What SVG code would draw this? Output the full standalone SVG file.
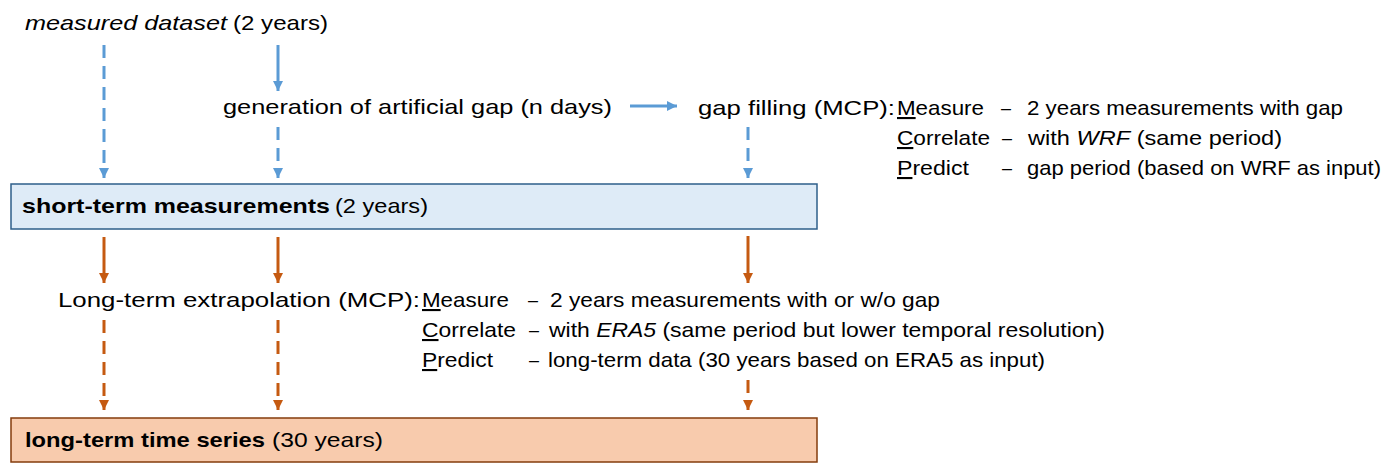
<svg xmlns="http://www.w3.org/2000/svg" width="1395" height="475" viewBox="0 0 1395 475">
<defs>
<style>
text{font-family:"Liberation Sans",Arial,sans-serif;font-size:21px;fill:#000}
.b{font-weight:bold}
.i{font-style:italic}
.u{text-decoration:underline}
.blue{stroke:#5b9bd5;stroke-width:3;fill:none}
.orange{stroke:#c55a11;stroke-width:3;fill:none}
.dash{stroke-dasharray:13 8}
</style>
<marker id="ab" viewBox="0 0 10 10" refX="10" refY="5" markerWidth="3.4" markerHeight="3.4" markerUnits="strokeWidth" orient="auto"><path d="M0,0 L10,5 L0,10 z" fill="#5b9bd5"/></marker>
<marker id="ao" viewBox="0 0 10 10" refX="10" refY="5" markerWidth="3.4" markerHeight="3.4" markerUnits="strokeWidth" orient="auto"><path d="M0,0 L10,5 L0,10 z" fill="#c55a11"/></marker>
</defs>
<rect width="1395" height="475" fill="#fff"/>

<g id="measured-dataset">
<text x="25" y="30"><tspan class="i" textLength="202" lengthAdjust="spacingAndGlyphs">measured dataset</tspan></text>
<text x="233" y="30" textLength="95" lengthAdjust="spacingAndGlyphs">(2 years)</text>
</g>

<g id="artificial-gap">
<text x="223" y="114" textLength="389" lengthAdjust="spacingAndGlyphs">generation of artificial gap (n days)</text>
</g>

<g id="gap-filling">
<text x="698" y="115" textLength="197" lengthAdjust="spacingAndGlyphs">gap filling (MCP):</text>
<text x="897" y="115" textLength="87" lengthAdjust="spacingAndGlyphs"><tspan class="u">M</tspan>easure</text>
<text x="1001" y="115" textLength="10" lengthAdjust="spacingAndGlyphs">–</text>
<text x="1027" y="115" textLength="316" lengthAdjust="spacingAndGlyphs">2 years measurements with gap</text>
<text x="897" y="145" textLength="93" lengthAdjust="spacingAndGlyphs"><tspan class="u">C</tspan>orrelate</text>
<text x="1002" y="145" textLength="10" lengthAdjust="spacingAndGlyphs">–</text>
<text x="1028" y="145" textLength="254" lengthAdjust="spacingAndGlyphs">with <tspan class="i">WRF</tspan> (same period)</text>
<text x="897" y="175" textLength="72" lengthAdjust="spacingAndGlyphs"><tspan class="u">P</tspan>redict</text>
<text x="1002" y="175" textLength="10" lengthAdjust="spacingAndGlyphs">–</text>
<text x="1027" y="175" textLength="354" lengthAdjust="spacingAndGlyphs">gap period (based on WRF as input)</text>
</g>

<g id="short-term">
<rect x="11" y="184" width="806" height="45" fill="#deebf7" stroke="#2e5f8a" stroke-width="1.5"/>
<text x="22" y="213"><tspan class="b" textLength="308" lengthAdjust="spacingAndGlyphs">short-term measurements</tspan></text>
<text x="335" y="213" textLength="93" lengthAdjust="spacingAndGlyphs">(2 years)</text>
</g>

<g id="long-term-extrapolation">
<text x="58" y="307" textLength="362" lengthAdjust="spacingAndGlyphs">Long-term extrapolation (MCP):</text>
<text x="422" y="307" textLength="87" lengthAdjust="spacingAndGlyphs"><tspan class="u">M</tspan>easure</text>
<text x="528" y="307" textLength="10" lengthAdjust="spacingAndGlyphs">–</text>
<text x="550" y="307" textLength="390" lengthAdjust="spacingAndGlyphs">2 years measurements with or w/o gap</text>
<text x="422" y="337" textLength="94" lengthAdjust="spacingAndGlyphs"><tspan class="u">C</tspan>orrelate</text>
<text x="529" y="337" textLength="10" lengthAdjust="spacingAndGlyphs">–</text>
<text x="549" y="337" textLength="556" lengthAdjust="spacingAndGlyphs">with <tspan class="i">ERA5</tspan> (same period but lower temporal resolution)</text>
<text x="422" y="367" textLength="71" lengthAdjust="spacingAndGlyphs"><tspan class="u">P</tspan>redict</text>
<text x="529" y="367" textLength="10" lengthAdjust="spacingAndGlyphs">–</text>
<text x="548" y="367" textLength="497" lengthAdjust="spacingAndGlyphs">long-term data (30 years based on ERA5 as input)</text>
</g>

<g id="long-term-series">
<rect x="11" y="418" width="806" height="44" fill="#f8cbad" stroke="#843c0c" stroke-width="1.5"/>
<text x="25" y="447"><tspan class="b" textLength="240" lengthAdjust="spacingAndGlyphs">long-term time series</tspan></text>
<text x="272" y="447" textLength="111" lengthAdjust="spacingAndGlyphs">(30 years)</text>
</g>

<g id="connectors">
<line class="blue dash" x1="104" y1="45" x2="104" y2="178" marker-end="url(#ab)"/>
<line class="blue" x1="278" y1="45" x2="278" y2="91" marker-end="url(#ab)"/>
<line class="blue dash" x1="278" y1="127" x2="278" y2="178" marker-end="url(#ab)"/>
<line class="blue" x1="630" y1="106" x2="677" y2="106" marker-end="url(#ab)"/>
<line class="blue dash" x1="748" y1="127" x2="748" y2="178" marker-end="url(#ab)"/>
<line class="orange" x1="104" y1="237" x2="104" y2="283" marker-end="url(#ao)"/>
<line class="orange" x1="278" y1="237" x2="278" y2="283" marker-end="url(#ao)"/>
<line class="orange" x1="748" y1="236" x2="748" y2="283" marker-end="url(#ao)"/>
<line class="orange dash" x1="104" y1="320" x2="104" y2="410" marker-end="url(#ao)"/>
<line class="orange dash" x1="278" y1="320" x2="278" y2="410" marker-end="url(#ao)"/>
<line class="orange dash" x1="748" y1="380" x2="748" y2="410" marker-end="url(#ao)"/>
</g>
</svg>
